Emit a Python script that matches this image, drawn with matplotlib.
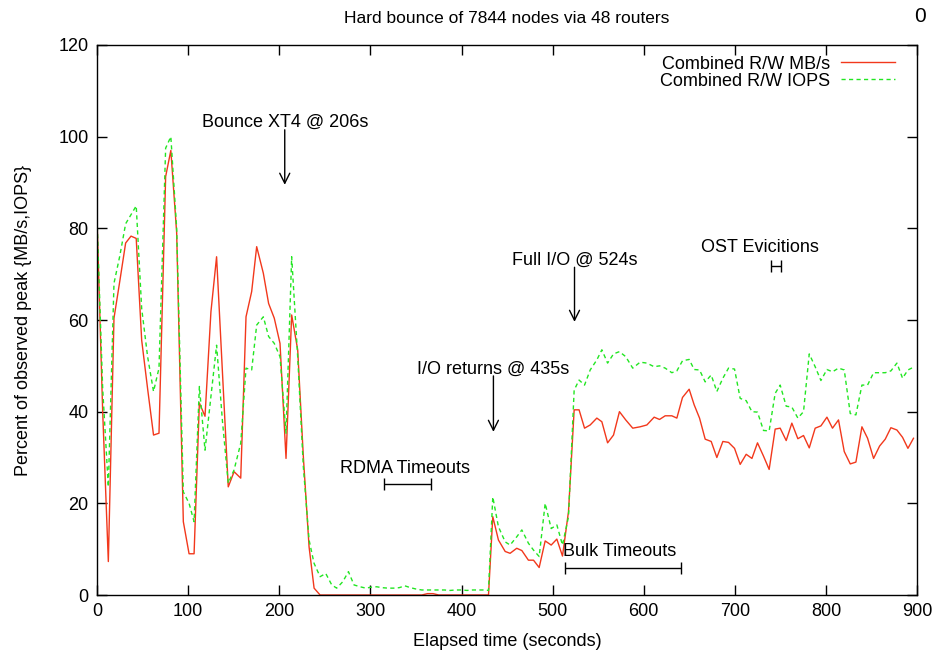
import matplotlib
matplotlib.use("Agg")
import matplotlib.pyplot as plt

plt.rcParams['font.family'] = ['Liberation Sans', 'DejaVu Sans']

# sample times (seconds)
time_s = [
    0, 6.2, 12.4, 18.6, 25, 31.4, 37.3, 43, 49, 55.5,
    62, 68, 75.3, 81, 87.4, 94.7, 101, 106.5, 112.3, 118.5,
    125, 131.2, 137.6, 144, 150.4, 157.7, 163.5, 169.7, 175.2, 182.5,
    188.3, 194.5, 200.8, 207.4, 213.6, 220.2, 226.4, 232.7, 238.2, 244.8,
    251, 257.6, 263, 269.7, 275.9, 282, 288.7, 294.9, 300.6, 306.8,
    313, 319.2, 325.4, 331.6, 337.8, 344, 350.2, 356.4, 362.6, 368.8,
    375, 381.2, 387.4, 393.6, 399.8, 406, 412.2, 418.4, 424.6, 429.6,
    434.3, 440.5,
    447.9, 453.3, 460.6, 466.2, 473.4, 479, 485.2, 491.8, 498.4, 504.6,
    510.8, 517.4, 523.6, 529, 535, 541.2, 548.5, 554, 560.3, 566.8,
    573.3, 580.2, 587.9,
    596, 603.4, 611.4, 617.3, 623.5, 630.8, 636.3, 642.5, 649.8, 655.3,
    661.2, 667.4, 674, 680.2, 686.8, 693, 699.6, 705.8, 712.4, 718.7,
    724.8, 731.4, 737.6,
    744.2, 749.7, 756.3, 762.5, 769.1, 775.3, 781.6, 788.1, 794.4, 801,
    807.1, 813.7, 820, 826.6, 832.8, 839.4, 845.6, 852.2, 858.8, 865,
    871.2, 877.8, 884, 889.9, 896,
]

# combined R/W MB/s, percent of peak
mbs = [
    82, 40, 7.3, 60.4, 68.5, 76.8, 78.3, 77.8, 55.6, 45,
    34.9, 35.3, 91.3, 97, 79, 16, 9, 9, 41.9, 39,
    61.8, 73.8, 48.7, 23.6, 26.9, 25.5, 60.7, 66.2, 76, 70.2,
    63.6, 60.4, 54.9, 29.8, 61.1, 53.5, 30.2, 10.5, 1.5, 0,
    0, 0, 0, 0, 0, 0, 0, 0, 0, 0,
    0, 0, 0, 0, 0, 0, 0, 0, 0.3, 0.3,
    0, 0, 0, 0, 0, 0, 0, 0, 0, 0,
    17.1, 12,
    9.5, 9.1, 10.2, 9.7, 7.6, 7.6, 6, 11.8, 10.9, 12.2,
    8.5, 18.2, 40.4, 40.4, 36.4, 37.1, 38.6, 37.8, 33.2, 34.9,
    40, 38.2, 36.4,
    36.7, 37.1, 38.8, 38.3, 39.1, 39.1, 38.6, 43.1, 44.9, 41.5,
    38.6, 34, 33.5, 30, 33.5, 33.3, 32, 28.5, 30.7, 29.8,
    33.2, 30.3, 27.4,
    36.2, 36.4, 33.7, 37.5, 34.1, 34.8, 32.1, 36.4, 36.9, 38.8,
    36.4, 38.2, 31.3, 28.6, 29, 36.7, 34.2, 29.8, 32.5, 34,
    36.5, 36, 34.4, 32, 34.2,
]

# combined R/W IOPS, percent of peak
iops = [
    82, 45, 23.6, 68, 74, 81, 83, 84.9, 62.5, 52,
    44.4, 49.5, 97.5, 100, 80, 22.5, 20, 16, 45.5, 31.6,
    43.3, 54.5, 38, 24.4, 27.3, 33.1, 49.5, 49.1, 58.9, 60.7,
    56.4, 54.9, 52, 35.3, 73.8, 52, 28, 12, 6.9, 4,
    4.7, 2.2, 1.5, 2.9, 5.1, 2.2, 1.8, 1.5, 1.7, 1.8,
    1.6, 1.5, 1.5, 1.6, 2.0, 1.6, 1.3, 1.1, 1.1, 1.1,
    1.1, 1.1, 1.0, 1.1, 1.1, 1.0, 1.1, 1.1, 1.1, 1.0,
    21.4, 14.9,
    11.6, 10.9, 12.7, 14.2, 11.3, 9.8, 8.4, 20, 14.5, 15.3,
    10.9, 17.1, 44.7, 46.9, 45.8, 49.1, 51.3, 53.5, 50.6, 52.6,
    53.1, 52, 49.5,
    50.8, 50.6, 49.8, 50, 49.5, 48.5, 48.9, 51.1, 51.4, 49.2,
    49.1, 46.5, 48, 44.4, 47.3, 49.5, 49.3, 42.9, 42.4, 40,
    39.9, 35.9, 35.8,
    44, 45.8, 41.2, 41, 38.6, 40, 52.6, 49.8, 46.8, 49.2,
    48.7, 49.5, 49.1, 39.6, 39.3, 45.8, 45.8, 48.5, 48.5, 48.5,
    48.9, 50.6, 47.3, 49.1, 49.7,
]

# arrows: (label, time, text y, arrow top, arrow tip)
events = [
    ("Bounce XT4 @ 206s", 206, 103.2, 101.5, 89.5),
    ("Full I/O @ 524s", 524, 73.1, 71.5, 59.6),
    ("I/O returns @ 435s", 435, 49.3, 47.8, 35.6),
]

# timeout intervals: (label, start, end, bar y, label x, label y)
intervals = [
    ("RDMA Timeouts", 315, 366.5, 24.2, 338, 27.7),
    ("Bulk Timeouts", 514, 641, 5.9, 573, 9.6),
    ("OST Evicitions", 740, 751, 71.8, 728, 75.9),
]

FS = 13

fig = plt.figure(figsize=(9.33, 6.52), dpi=100)
ax = fig.add_axes([0.104, 0.0874, 0.879, 0.8436])

ax.plot(time_s, mbs, color='#f2381c', lw=1.0, label='Combined R/W MB/s')
ax.plot(time_s, iops, color='#22e622', lw=1.0, dashes=(3, 2.4),
        label='Combined R/W IOPS')

for label, t, ty, y0, y1 in events:
    ax.text(t, ty, label, ha='center', va='center', fontsize=FS)
    ax.annotate('', xy=(t, y1), xytext=(t, y0),
                arrowprops=dict(arrowstyle='->', color='black', lw=1.0,
                                mutation_scale=18, shrinkA=0, shrinkB=0))

for label, a, b, y, lx, ly in intervals:
    mid = (a + b) / 2
    ax.errorbar([mid], [y], xerr=[[mid - a], [b - mid]], fmt='none',
                ecolor='black', elinewidth=1.0, capsize=4.3, capthick=1.0)
    ax.text(lx, ly, label, ha='center', va='center', fontsize=FS)

ax.set_xlim(0, 900)
ax.set_ylim(0, 120)
ax.set_xticks(range(0, 901, 100))
ax.set_yticks(range(0, 121, 20))
ax.tick_params(direction='in', length=7, width=1, top=True, right=True,
               labelsize=FS, pad=6)
for sp in ax.spines.values():
    sp.set_linewidth(1.0)

ax.set_xlabel('Elapsed time (seconds)', fontsize=FS, labelpad=9)
ax.set_ylabel('Percent of observed peak {MB/s,IOPS}', fontsize=FS, labelpad=19)
ax.set_title('Hard bounce of 7844 nodes via 48 routers', fontsize=12.5,
             family=['Liberation Sans Narrow', 'Liberation Sans'], pad=16)
fig.text(0.992, 0.99, '0', ha='right', va='top', fontsize=15)

leg = ax.legend(loc='upper right', frameon=False, markerfirst=False,
                fontsize=FS, handlelength=3.0, handletextpad=0.6,
                labelspacing=0.0, borderaxespad=0.0,
                bbox_to_anchor=(0.982, 0.994))

fig.savefig('out.png', dpi=100)
